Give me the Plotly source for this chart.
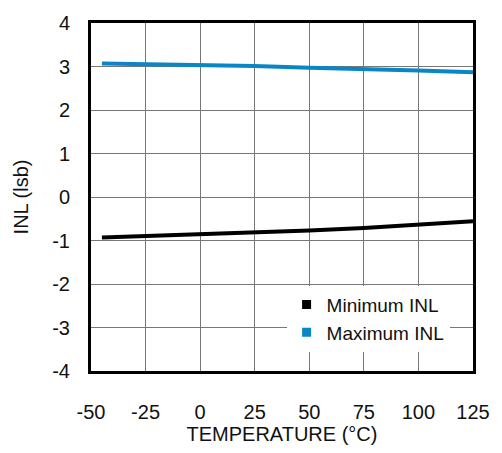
import plotly.graph_objects as go

temps = [-45, 0, 25, 50, 75, 100, 125]
min_inl = [-0.93, -0.86, -0.82, -0.77, -0.71, -0.64, -0.56]
max_inl = [3.07, 3.04, 3.01, 2.97, 2.95, 2.91, 2.87]
x_ticks = [-50, -25, 0, 25, 50, 75, 100, 125]
y_ticks = [-4, -3, -2, -1, 0, 1, 2, 3, 4]

BLUE = "#0a86c6"
FONT = "Liberation Sans, Arial, sans-serif"

fig = go.Figure()
fig.add_trace(go.Scatter(x=temps, y=min_inl, mode="lines",
                         line=dict(color="black", width=4), showlegend=False))
fig.add_trace(go.Scatter(x=temps, y=max_inl, mode="lines",
                         line=dict(color=BLUE, width=4), showlegend=False))
fig.add_trace(go.Scatter(x=[None], y=[None], mode="markers", name="Minimum INL",
                         marker=dict(symbol="square", color="black", size=9)))
fig.add_trace(go.Scatter(x=[None], y=[None], mode="markers", name="Maximum INL",
                         marker=dict(symbol="square", color=BLUE, size=9)))

fig.update_layout(
    width=502, height=453,
    margin=dict(l=91, r=28, t=13, b=76),
    plot_bgcolor="white", paper_bgcolor="white",
    font=dict(family=FONT, size=20, color="#111"),
    legend=dict(x=0.512, y=0.245, xanchor="left", yanchor="top",
                bgcolor="white", font=dict(size=19, color="#111"),
                itemwidth=30, tracegroupgap=0),
    xaxis=dict(range=[-50, 125], tickvals=x_ticks,
               ticktext=[str(v) for v in x_ticks], showgrid=True,
               gridcolor="#777", gridwidth=1, zeroline=False,
               showline=True, linecolor="black", linewidth=3, mirror=True,
               ticks="", ticklabelstandoff=21,
               title=dict(text="TEMPERATURE (°C)", standoff=4,
                          font=dict(size=20))),
    yaxis=dict(range=[-4, 4], tickvals=y_ticks,
               ticktext=[str(v) for v in y_ticks], showgrid=True,
               gridcolor="#777", gridwidth=1, zeroline=False,
               showline=True, linecolor="black", linewidth=3, mirror=True,
               ticks="", ticklabelstandoff=14,
               title=dict(text="INL (lsb)", standoff=19,
                          font=dict(size=20))),
)

fig.write_html("out.html")
